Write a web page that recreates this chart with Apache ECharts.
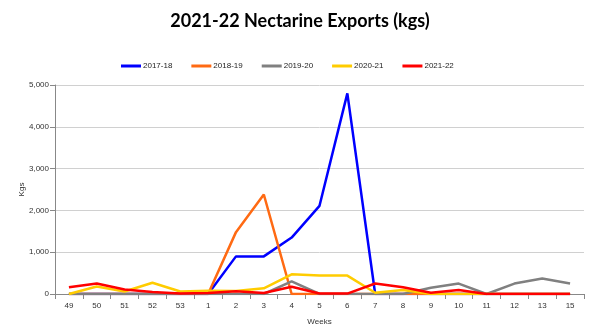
<!DOCTYPE html>
<html>
<head>
<meta charset="utf-8">
<script src="https://cdn.jsdelivr.net/npm/echarts@6/dist/echarts.min.js"></script>
<style>html,body{margin:0;padding:0;background:#fff}#c{width:600px;height:335px}</style>
</head>
<body>
<div id="c"></div>
<script>
const weeks = ['49','50','51','52','53','1','2','3','4','5','6','7','8','9','10','11','12','13','15'];
const s2017_18 = [0,0,0,0,0,0,900,900,1350,2110,4800,0,0,0,0,0,0,0,0];
const s2018_19 = [0,0,0,0,0,0,1480,2380,0,0,0,0,0,0,0,0,0,0,0];
const s2019_20 = [0,0,0,0,0,0,0,0,300,0,0,0,0,150,250,0,250,370,250];
const s2020_21 = [0,180,60,270,60,80,70,135,470,440,440,30,95,0,0,0,0,0,0];
const s2021_22 = [160,250,110,50,10,25,65,25,175,10,10,250,160,30,95,0,0,0,0];
const seriesNames = ['2017-18','2018-19','2019-20','2020-21','2021-22'];
const seriesData = [s2017_18, s2018_19, s2019_20, s2020_21, s2021_22];
const colors = ['#0000ff','#ff6a13','#808080','#ffcc00','#ff0000'];
const yTicks = [0,1000,2000,3000,4000,5000];

const chart = echarts.init(document.getElementById('c'), null, {renderer:'canvas'});
const font = 'Liberation Sans, Arial, sans-serif';
chart.setOption({
  animation:false,
  color: colors,
  title:{text:'2021-22 Nectarine Exports (kgs)', left:'center', top:7,
    textStyle:{fontFamily:'Lato, Open Sans, sans-serif', fontSize:18, fontWeight:'bold', color:'#000'}},
  legend:{top:57, left:116, itemWidth:20, itemHeight:3, itemGap:19, icon:'rect',
    textStyle:{fontFamily:font, fontSize:8, color:'#222', padding:[0,0,0,-3]},
    data: seriesNames},
  grid:{left:55, right:16, top:85, bottom:41},
  xAxis:{type:'category', data:weeks, boundaryGap:true, name:'Weeks', nameLocation:'middle', nameGap:24,
    nameTextStyle:{fontFamily:font, fontSize:8, color:'#333'},
    axisLine:{lineStyle:{color:'#888'}}, axisTick:{show:true, alignWithLabel:false, lineStyle:{color:'#888'}},
    axisLabel:{fontFamily:font, fontSize:8, color:'#333', margin:8}},
  yAxis:{type:'value', min:yTicks[0], max:yTicks[yTicks.length-1], interval:1000, name:'Kgs', nameLocation:'middle', nameGap:29,
    nameMoveOverlap:false,
    nameTextStyle:{fontFamily:font, fontSize:8, color:'#333'},
    axisLine:{show:true, lineStyle:{color:'#888'}}, axisTick:{show:true, lineStyle:{color:'#888'}},
    splitLine:{lineStyle:{color:'#d0d0d0'}},
    axisLabel:{fontFamily:font, fontSize:8, color:'#333', margin:6,
      formatter:v=>v.toLocaleString('en-US')}},
  series: seriesNames.map((n,i)=>({name:n, type:'line', data:seriesData[i], symbol:'none',
    lineStyle:{width:2.5, color:colors[i]}, itemStyle:{color:colors[i]}}))
});
</script>
</body>
</html>
